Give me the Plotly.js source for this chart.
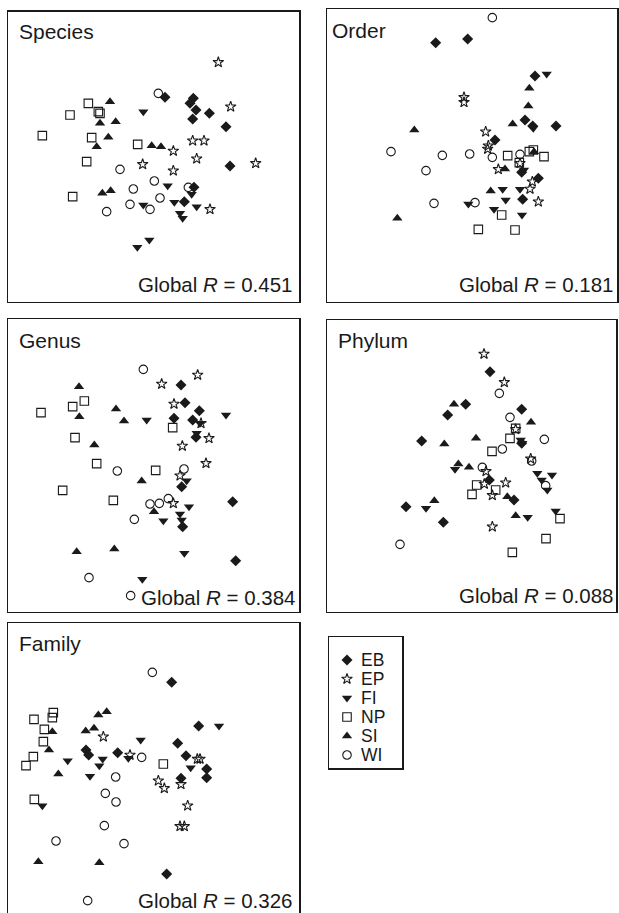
<!DOCTYPE html>
<html><head><meta charset="utf-8">
<script src="https://cdn.plot.ly/plotly-3.0.1.min.js"></script>
<style>html,body{margin:0;padding:0;overflow:hidden;background:#fff}</style>
</head><body><div id="chart" style="width:619px;height:916px"></div>
<script>
// ---------- data (MDS ordination scores; y grows downward) ----------
const groups = ['EB', 'EP', 'FI', 'NP', 'SI', 'WI'];
const panelNames = ['Species', 'Order', 'Genus', 'Phylum', 'Family'];
const globalR = ['0.451', '0.181', '0.384', '0.088', '0.326'];

const speciesEB = [[495,292],[580,295],[570,310],[588,330],[628,340],[578,357],[678,380],[690,498],[582,562],[553,605]];
const speciesEP = [[655,187],[692,320],[578,422],[612,422],[520,453],[590,476],[428,493],[520,512],[767,490],[630,628]];
const speciesFI = [[430,335],[503,557],[575,583],[430,615],[523,607],[590,620],[540,640],[548,655],[412,742],[448,720]];
const speciesNP = [[265,310],[210,345],[295,335],[300,340],[127,407],[275,413],[413,433],[260,485],[218,590]];
const speciesSI = [[330,305],[300,370],[347,365],[325,412],[290,440],[455,437],[483,440],[307,580],[332,572]];
const speciesWI = [[475,280],[360,508],[463,543],[400,567],[565,562],[480,594],[390,613],[450,628],[320,635]];

const orderEB = [[347,128],[443,117],[645,228],[615,360],[708,378],[638,378],[525,420],[605,517],[655,535],[608,598]];
const orderEP = [[432,292],[432,307],[497,395],[505,437],[503,447],[535,508],[600,490],[637,545],[630,567],[655,605]];
const orderFI = [[680,222],[640,385],[548,568],[600,568],[557,600],[445,612],[522,628],[606,645],[612,510]];
const orderNP = [[563,467],[628,455],[640,450],[672,470],[598,488],[545,645],[475,688],[585,690]];
const orderSI = [[628,265],[625,318],[578,372],[283,390],[642,455],[555,507],[512,573],[232,655]];
const orderWI = [[517,53],[213,455],[367,466],[449,462],[517,472],[600,463],[318,512],[342,610],[465,608]];

const genusEB = [[543,225],[555,278],[598,302],[522,325],[578,330],[588,382],[545,530],[548,650],[698,575],[707,752]];
const genusEP = [[593,195],[485,222],[522,282],[603,340],[627,385],[547,408],[618,460],[540,497],[520,580]];
const genusFI = [[440,330],[678,315],[600,340],[590,370],[560,512],[567,590],[490,632],[540,612],[545,630],[553,730],[427,808]];
const genusNP = [[123,308],[218,290],[253,273],[518,353],[225,383],[290,461],[467,481],[188,541],[340,571]];
const genusSI = [[237,230],[238,320],[348,297],[372,333],[283,405],[425,513],[462,605],[230,725],[343,717]];
const genusWI = [[430,178],[352,483],[552,477],[505,566],[450,582],[478,580],[403,628],[267,803],[392,857]];

const phylumEB = [[510,185],[437,283],[383,315],[605,298],[305,393],[605,400],[508,510],[582,570],[258,590],[370,637]];
const phylumEP = [[492,132],[553,217],[587,358],[632,446],[498,484],[493,522],[557,518],[517,556],[517,650]];
const phylumFI = [[602,390],[607,400],[405,478],[652,490],[665,510],[696,495],[682,540],[318,595],[623,622],[707,603]];
const phylumNP = [[587,355],[570,385],[516,424],[470,525],[456,553],[527,540],[720,626],[678,686],[577,727]];
const phylumSI = [[402,283],[633,337],[373,402],[468,385],[415,462],[447,472],[343,572],[562,560],[587,617]];
const phylumWI = [[538,250],[570,322],[673,388],[547,417],[635,453],[487,472],[677,527],[240,703]];

const familyEB = [[515,202],[596,333],[533,385],[558,422],[258,405],[266,420],[353,413],[620,462],[620,488],[543,490],[500,777]];
const familyEP = [[310,365],[390,420],[592,432],[600,432],[475,497],[493,520],[543,508],[563,572],[540,634],[553,634]];
const familyFI = [[422,375],[657,333],[385,430],[308,432],[298,452],[203,437],[270,484],[572,458],[127,572]];
const familyNP = [[102,313],[160,293],[157,308],[133,343],[130,380],[100,425],[78,452],[490,447],[103,553]];
const familySI = [[295,300],[320,290],[157,350],[257,348],[282,340],[147,405],[175,477],[115,740],[298,743]];
const familyWI = [[457,172],[425,427],[347,486],[316,535],[348,561],[313,632],[168,678],[372,686],[263,857]];

const panelData = [
  [speciesEB, speciesEP, speciesFI, speciesNP, speciesSI, speciesWI],
  [orderEB, orderEP, orderFI, orderNP, orderSI, orderWI],
  [genusEB, genusEP, genusFI, genusNP, genusSI, genusWI],
  [phylumEB, phylumEP, phylumFI, phylumNP, phylumSI, phylumWI],
  [familyEB, familyEP, familyFI, familyNP, familySI, familyWI]
];

// ---------- layout & style ----------
const W = 619, H = 916;
const INK = '#1a1a1a';
const FONT = 'Liberation Sans, Arial, Helvetica, sans-serif';
// panel frames in page pixels, and the origin of the score units of each panel
const frames = [
  {l: 8.3,   r: 299.3, t: 11.7,  b: 301.7, ox: 0,   oy: 0},
  {l: 327.3, r: 617,   t: 9.3,   b: 301.7, ox: 320, oy: 0},
  {l: 8.3,   r: 299.3, t: 319.3, b: 611.7, ox: 0,   oy: 310},
  {l: 327.3, r: 616,   t: 320,   b: 611.7, ox: 320, oy: 310},
  {l: 8.3,   r: 299,   t: 623.3, b: 915,   ox: 0,   oy: 615}
];
const titlePos = [[16.5, 32], [330, 30], [16.5, 340], [336.5, 340], [16.5, 643]];
const rPos = [[294, 285], [615, 285], [297, 597], [615, 595], [294, 900]];
const symbols = {EB: 'diamond', EP: 'star-open', FI: 'triangle-down', NP: 'square-open', SI: 'triangle-up', WI: 'circle-open'};
const sizes = {EB: 8.5, EP: 8, FI: 9, NP: 8.5, SI: 9, WI: 8.5};
const legendBox = {l: 329, r: 402, t: 637, b: 768};
const S = 3; // score units per pixel

const px = v => v / W;
const py = v => 1 - v / H;

const traces = [];
const layout = {
  width: W, height: H,
  margin: {l: 0, r: 0, t: 0, b: 0},
  paper_bgcolor: '#fff', plot_bgcolor: 'rgba(0,0,0,0)',
  showlegend: false,
  font: {family: FONT, color: INK},
  annotations: []
};

function axisStyle(extra) {
  return Object.assign({
    showline: true, mirror: true, linecolor: INK, linewidth: 1.5,
    showgrid: false, zeroline: false, showticklabels: false, ticks: '',
    fixedrange: true
  }, extra);
}

function markerFor(g) {
  return {
    symbol: symbols[g], size: sizes[g], color: INK,
    line: {color: INK, width: symbols[g].endsWith('open') ? 1.1 : 0}
  };
}

frames.forEach((f, p) => {
  const k = p + 1;
  const xa = k === 1 ? 'x' : 'x' + k, ya = k === 1 ? 'y' : 'y' + k;
  layout['xaxis' + (k === 1 ? '' : k)] = axisStyle({
    domain: [px(f.l), px(f.r)], anchor: ya,
    range: [(f.l - f.ox) * S, (f.r - f.ox) * S]
  });
  layout['yaxis' + (k === 1 ? '' : k)] = axisStyle({
    domain: [py(f.b), py(f.t)], anchor: xa,
    range: [(f.b - f.oy) * S, (f.t - f.oy) * S]
  });
  groups.forEach((g, gi) => {
    const pts = panelData[p][gi];
    traces.push({
      type: 'scatter', mode: 'markers', name: g, legendgroup: g,
      x: pts.map(d => d[0]), y: pts.map(d => d[1]),
      xaxis: xa, yaxis: ya, marker: markerFor(g), cliponaxis: false,
      hoverinfo: 'skip'
    });
  });
  layout.annotations.push({
    xref: 'paper', yref: 'paper', x: px(titlePos[p][0]), y: py(titlePos[p][1]),
    xanchor: 'left', yanchor: 'middle', showarrow: false,
    text: panelNames[p], font: {family: FONT, size: 21, color: INK}
  });
  layout.annotations.push({
    xref: 'paper', yref: 'paper', x: px(rPos[p][0]), y: py(rPos[p][1]),
    xanchor: 'right', yanchor: 'middle', showarrow: false,
    text: 'Global <i>R</i> = ' + globalR[p], font: {family: FONT, size: 20.5, color: INK}
  });
});

// ---------- key (legend box) ----------
const keyRowPx = 19, keyFirstRowPx = 660, keySymbolPx = 347;
layout.xaxis6 = axisStyle({
  domain: [px(legendBox.l), px(legendBox.r)], anchor: 'y6',
  range: [legendBox.l - keySymbolPx, legendBox.r - keySymbolPx]
});
layout.yaxis6 = axisStyle({
  domain: [py(legendBox.b), py(legendBox.t)], anchor: 'x6',
  type: 'category', categoryarray: groups, categoryorder: 'array',
  range: [(legendBox.b - keyFirstRowPx) / keyRowPx, (legendBox.t - keyFirstRowPx) / keyRowPx]
});
groups.forEach((g, gi) => {
  traces.push({
    type: 'scatter', mode: 'markers', name: g, legendgroup: g,
    x: [0], y: [g], xaxis: 'x6', yaxis: 'y6', marker: markerFor(g), hoverinfo: 'skip'
  });
  layout.annotations.push({
    xref: 'x6', yref: 'y6', x: 12, y: gi, xanchor: 'left', yanchor: 'middle',
    showarrow: false, text: g, font: {family: FONT, size: 17.5, color: INK}
  });
});

Plotly.newPlot('chart', traces, layout, {staticPlot: true, displayModeBar: false});
</script>
</body></html>
